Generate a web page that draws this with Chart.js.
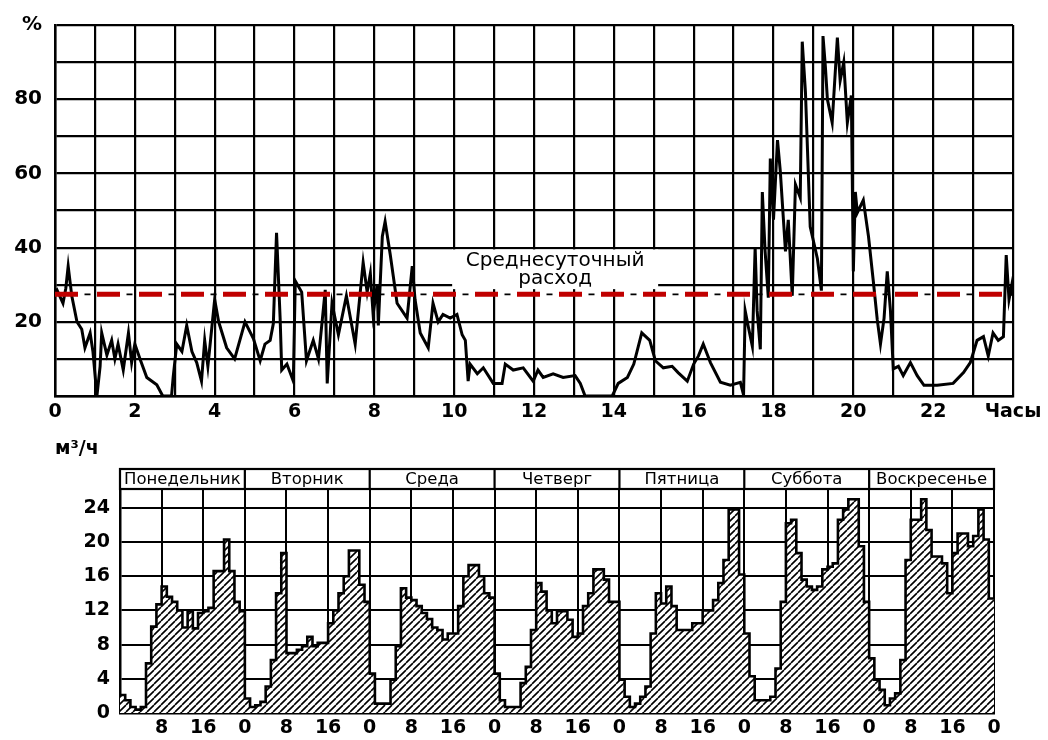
<!DOCTYPE html>
<html>
<head>
<meta charset="utf-8">
<script src="https://cdn.jsdelivr.net/npm/chart.js@4/dist/chart.umd.min.js"></script>
<style>
  html, body { margin: 0; padding: 0; background: #fff; }
  body { width: 1048px; height: 740px; position: relative; overflow: hidden; }
  #wrapTop { position: absolute; left: 0; top: 0; width: 1048px; height: 425px; }
  #wrapBot { position: absolute; left: 0; top: 425px; width: 1048px; height: 315px; }
</style>
</head>
<body>
<div id="wrapTop"><canvas id="top"></canvas></div>
<div id="wrapBot"><canvas id="bot"></canvas></div>
<script>
// ---------- DATA: top chart (hourly water use, % of max) ----------
const topHours = [0.00,0.05,0.20,0.27,0.33,0.42,0.55,0.67,0.75,0.88,0.95,1.05,1.13,1.17,1.30,1.42,1.50,1.58,1.71,1.84,1.92,2.00,2.13,2.30,2.55,2.70,2.92,2.96,3.05,3.18,3.30,3.43,3.55,3.67,3.75,3.83,4.00,4.10,4.30,4.50,4.76,4.97,5.14,5.26,5.39,5.47,5.55,5.64,5.68,5.81,5.97,6.02,6.18,6.30,6.47,6.60,6.77,6.82,6.94,7.10,7.30,7.52,7.72,7.82,7.90,7.97,8.07,8.10,8.20,8.27,8.40,8.57,8.82,8.95,9.02,9.15,9.35,9.47,9.60,9.72,9.90,10.07,10.20,10.28,10.35,10.40,10.58,10.73,10.98,11.20,11.28,11.48,11.73,11.98,12.10,12.23,12.48,12.73,13.03,13.16,13.28,13.96,14.11,14.34,14.50,14.70,14.90,15.04,15.24,15.46,15.61,15.84,16.00,16.12,16.24,16.42,16.67,16.92,17.17,17.25,17.29,17.37,17.47,17.54,17.59,17.67,17.72,17.79,17.87,17.92,18.00,18.10,18.17,18.30,18.37,18.47,18.55,18.67,18.72,18.80,18.92,19.10,19.20,19.24,19.30,19.35,19.47,19.60,19.67,19.76,19.85,19.95,20.00,20.05,20.10,20.25,20.38,20.50,20.60,20.68,20.77,20.85,20.93,21.00,21.13,21.25,21.43,21.60,21.77,22.10,22.50,22.76,22.93,23.10,23.26,23.38,23.50,23.63,23.76,23.83,23.90,23.97,24.00];
const topValues = [28,28.6,25,29,35,27,20,18,13,17,12,0,8,17,11,15,10,14,7,17,9,14,10,5,3,0,0,5,14,12,19,12,9,4,15,8,26,20,13,10,20,15.5,9.5,14,15,19.5,44,21,7,8.6,4,31,28,9.5,15,10,28.6,3.4,25,16.5,27,14,36,28,33,22,30,19,43,47,38,25,21,35,26,17,13,25,20,22,21,22,16.5,15,4,8.6,6,7.6,3.4,3.4,8.6,7,7.6,4,7,5,6,5,5.5,3.4,0,0,3.4,5,8.6,17,15,9.5,7.6,8,6.3,4,8.6,10.8,14,9,3.7,2.9,3.7,0.3,23,18.6,13.4,40,23,12.6,55,39,26.5,64,47.5,69,60.6,39,47.5,27,57,53.5,95.5,82,45.6,37,28.4,97,88.7,80,73.7,96.6,85,90,73.7,81,33.6,55,49.4,52.8,43,31,20.5,14,21,33.6,23,7.3,8,5.5,9,5.5,2.9,2.9,3.4,6.3,9,15,16,10.8,17,15,16,38,26,30,27];
const avgValue = 27.4;                 // среднесуточный расход, %
const avgLabel = ['Среднесуточный', 'расход'];
const topYTicks = [20, 40, 60, 80];
const topXUnit = 'Часы';
const topYUnit = '%';

// ---------- DATA: bottom chart (hourly flow, m3/h, by day) ----------
const dayNames = ['Понедельник','Вторник','Среда','Четверг','Пятница','Суббота','Воскресенье'];
const monday    = [2.1,1.5,0.7,0.4,0.7,5.8,10.1,12.7,14.8,13.6,13,12,10,11.9,9.9,11.7,11.9,12.3,16.6,16.6,20.3,16.6,13,11.9];
const tuesday   = [1.7,0.7,0.9,1.3,3.1,6.2,14,18.7,7,7,7.4,7.8,8.9,7.8,8.2,8.2,10.5,12,14,16,19,19,15,13];
const wednesday = [4.6,1.1,1.1,1.1,3.9,7.8,14.6,13.5,13.2,12.5,11.7,11,10,9.7,8.6,9.3,9.3,12.5,16,17.3,17.3,16,14,13.5];
const thursday  = [4.6,1.5,0.7,0.7,0.7,3.5,5.4,9.7,15.2,14.2,12,10.5,11.9,11.9,10.9,8.9,9.3,12.5,14,16.8,16.8,15.6,13,13];
const friday    = [3.9,1.9,0.7,1.1,1.9,3.1,9.3,14,12.8,14.8,12.5,9.7,9.7,9.7,10.5,10.5,12,12,13.2,15.2,17.9,23.8,23.8,16.2];
const saturday  = [9.3,4.3,1.5,1.5,1.5,1.9,5.2,13,22.2,22.6,18.7,15.6,14.8,14.4,14.8,16.8,17.1,17.5,22.6,23.8,25,25,19.5,13];
const sunday    = [6.4,3.9,2.7,0.9,1.7,2.3,6.2,17.9,22.6,22.6,25,21.4,18.3,18.3,17.5,14,18.7,21,21,19.5,20.7,23.8,20.3,13.4];
const botYTicks = [0, 4, 8, 12, 16, 20, 24];
const botYMax = 26.2;
const botHourTicks = [8, 16, 0];
const botUnit = 'м³/ч';

// ---------- build ----------
const FONT = '"DejaVu Sans", "Liberation Sans", sans-serif';
const topPts = topHours.map((h, i) => ({ x: h, y: topValues[i] }));
const week = [monday, tuesday, wednesday, thursday, friday, saturday, sunday].flat();
const weekPts = week.map((v, i) => ({ x: i, y: v }));
weekPts.push({ x: week.length, y: week[week.length - 1] });

function hatch() {
  const s = 7;
  const c = document.createElement('canvas');
  c.width = s; c.height = s;
  const g = c.getContext('2d');
  g.fillStyle = '#fff'; g.fillRect(0, 0, s, s);
  g.strokeStyle = '#000'; g.lineWidth = 1.6;
  g.beginPath();
  for (const o of [-s, 0, s]) { g.moveTo(o, s); g.lineTo(o + s, 0); }
  g.stroke();
  return g.createPattern(c, 'repeat');
}

// ---------- top chart ----------
const topH = 425;
const annotPlugin = {
  id: 'annot',
  beforeDatasetsDraw(chart) {
    const { ctx, scales: { x, y } } = chart;
    const cx = x.getPixelForValue(12.53);
    ctx.save();
    ctx.fillStyle = '#fff';
    ctx.fillRect(cx - 103, y.getPixelForValue(39.5), 206, y.getPixelForValue(28.8) - y.getPixelForValue(39.5));
    ctx.restore();
  },
  afterDatasetsDraw(chart) {
    const { ctx, scales: { x, y } } = chart;
    const cx = x.getPixelForValue(12.53);
    ctx.save();
    ctx.fillStyle = '#000';
    ctx.font = '20px ' + FONT;
    ctx.textAlign = 'center';
    ctx.textBaseline = 'middle';
    ctx.fillText(avgLabel[0], cx, y.getPixelForValue(36.4));
    ctx.fillText(avgLabel[1], cx, y.getPixelForValue(31.7));
    ctx.restore();
  }
};

new Chart(document.getElementById('top'), {
  type: 'line',
  data: {
    datasets: [
      { data: [{ x: 0, y: avgValue }, { x: 24, y: avgValue }], borderColor: '#c00000', borderWidth: 5,
        borderDash: [23, 19], pointRadius: 0, order: 0 },
      { data: [{ x: 0, y: avgValue }, { x: 24, y: avgValue }], borderColor: '#000', borderWidth: 1.8,
        borderDash: [6, 36], borderDashOffset: 12.5, pointRadius: 0, order: 1 },
      { data: topPts, borderColor: '#000', borderWidth: 3, pointRadius: 0, tension: 0, order: 2 }
    ]
  },
  options: {
    responsive: true, maintainAspectRatio: false, animation: false,
    layout: { padding: { top: 15, right: 35, left: 0, bottom: 0 } },
    plugins: { legend: { display: false }, tooltip: { enabled: false } },
    scales: {
      x: {
        type: 'linear', min: 0, max: 24,
        afterFit: s => { s.height = topH - 396; },
        grid: { color: '#000', lineWidth: 2.2, drawTicks: false },
        border: { color: '#000', width: 2.5 },
        ticks: { stepSize: 1, autoSkip: false, maxRotation: 0, padding: 5, color: '#000',
          font: { family: FONT, size: 19, weight: 'bold' },
          callback: v => v === 24 ? topXUnit : (v % 2 === 0 ? String(v) : '') }
      },
      y: {
        type: 'linear', min: 0, max: 100,
        afterFit: s => { s.width = 55; },
        grid: { color: '#000', lineWidth: 2.2, drawTicks: false },
        border: { color: '#000', width: 2.5 },
        ticks: { stepSize: 10, autoSkip: false, padding: 13, color: '#000',
          font: { family: FONT, size: 20, weight: 'bold' },
          callback: v => v === 100 ? topYUnit : (topYTicks.includes(v) ? String(v) : '') }
      }
    }
  },
  plugins: [annotPlugin]
});

// ---------- bottom chart ----------
const botH = 315;
const headerPlugin = {
  id: 'header',
  afterDraw(chart) {
    const { ctx, chartArea: { left, right, top }, scales: { x } } = chart;
    const hh = 20, hTop = top - hh;
    ctx.save();
    ctx.strokeStyle = '#000';
    ctx.lineWidth = 2.2;
    ctx.strokeRect(left, hTop, right - left, hh);
    ctx.beginPath();
    for (let d = 1; d < dayNames.length; d++) {
      const px = x.getPixelForValue(24 * d);
      ctx.moveTo(px, hTop); ctx.lineTo(px, top);
    }
    ctx.stroke();
    ctx.fillStyle = '#000';
    ctx.font = '16.5px ' + FONT;
    ctx.textAlign = 'center';
    ctx.textBaseline = 'middle';
    dayNames.forEach((n, d) => ctx.fillText(n, x.getPixelForValue(24 * d + 12), hTop + hh / 2 + 1));
    ctx.font = 'bold 19px ' + FONT;
    ctx.textAlign = 'left';
    ctx.fillText(botUnit, 55, 24);
    ctx.restore();
  }
};

new Chart(document.getElementById('bot'), {
  type: 'line',
  data: {
    datasets: [{
      data: weekPts, stepped: true, borderColor: '#000', borderWidth: 2.6,
      pointRadius: 0, fill: 'origin', backgroundColor: hatch()
    }]
  },
  options: {
    responsive: true, maintainAspectRatio: false, animation: false,
    layout: { padding: { top: 64, right: 54, left: 0, bottom: 0 } },
    plugins: { legend: { display: false }, tooltip: { enabled: false } },
    scales: {
      x: {
        type: 'linear', min: 0, max: 168, z: 1,
        afterFit: s => { s.height = botH - 288; },
        grid: { color: '#000', lineWidth: 2, drawTicks: false },
        border: { color: '#000', width: 2.5 },
        ticks: { stepSize: 8, autoSkip: false, maxRotation: 0, padding: 4, color: '#000',
          font: { family: FONT, size: 19, weight: 'bold' },
          callback: v => (v === 0 ? '' : String(botHourTicks[(v / 8 - 1) % 3])) }
      },
      y: {
        type: 'linear', min: 0, max: botYMax, z: 1,
        afterFit: s => { s.width = 120; },
        afterBuildTicks: s => { s.ticks = botYTicks.concat([botYMax]).map(v => ({ value: v })); },
        grid: { color: '#000', lineWidth: 2, drawTicks: false },
        border: { color: '#000', width: 2.5 },
        ticks: { autoSkip: false, padding: 10, color: '#000',
          font: { family: FONT, size: 19, weight: 'bold' },
          callback: v => botYTicks.includes(v) ? String(v) : '' }
      }
    }
  },
  plugins: [headerPlugin]
});
</script>
</body>
</html>
